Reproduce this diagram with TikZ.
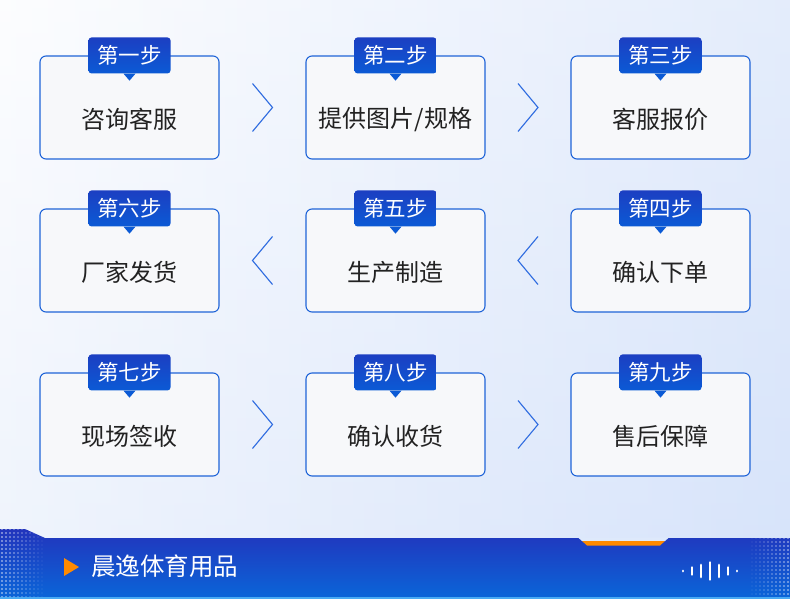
\documentclass[tikz,border=0pt]{standalone}
\usepackage{fontspec}
\newfontfamily\cjk{Noto Sans CJK SC}
\usetikzlibrary{calc}

\definecolor{bgleft}{HTML}{FBFCFE}
\definecolor{bgright}{HTML}{D6E3FA}
\definecolor{boxblue}{HTML}{1F64D8}
\definecolor{boxfill}{HTML}{F7F8FA}
\definecolor{tagtop}{HTML}{1C3FC2}
\definecolor{tagbot}{HTML}{0B5AD5}
\definecolor{txtgray}{HTML}{222222}
\definecolor{chevblue}{HTML}{2F6CE0}
\definecolor{bandtop}{HTML}{2234BC}
\definecolor{bandbot}{HTML}{0A66D9}
\definecolor{notch}{HTML}{FF8A00}

\begin{document}
\begin{tikzpicture}[x=1pt,y=-1pt,
    stepbox/.style={draw=boxblue, line width=1.1pt, fill=boxfill, rounded corners=6pt,
        minimum width=179pt, minimum height=103pt},
    steptag/.style={top color=tagtop, bottom color=tagbot, rounded corners=3pt,
        minimum width=82pt, minimum height=36pt, inner sep=0pt, text=white,
        font=\cjk\fontsize{21.5}{21.5}\selectfont},
    steptext/.style={text=txtgray, inner sep=0pt, font=\cjk\fontsize{24}{24}\selectfont},
    chev/.style={draw=chevblue, line width=1.1pt}]

    % Background
    \shade[left color=bgleft, right color=bgright] (0,0) rectangle (790,599);
    \shade[top color=white, bottom color=bgright, opacity=0.35] (0,0) rectangle (790,599);

    % Steps
    \foreach \n/\x/\y/\tg/\tx in {1/129.5/107.5/第一步/咨询客服, 2/395.5/107.5/第二步/{提供图片/规格},
        3/660.5/107.5/第三步/客服报价, 4/660.5/260.5/第四步/确认下单, 5/395.5/260.5/第五步/生产制造,
        6/129.5/260.5/第六步/厂家发货, 7/129.5/424.5/第七步/现场签收, 8/395.5/424.5/第八步/确认收货,
        9/660.5/424.5/第九步/售后保障}{
        \node[stepbox] (s\n) at (\x,\y) {};
        \node[steptext, yshift=-12pt] (txt\n) at (s\n) {\tx};
        \node[steptag] (tag\n) at (s\n.north) {\tg};
        \fill[tagbot] ($(tag\n.south)+(-6,0)$) -- ($(tag\n.south)+(6,0)$) -- ($(tag\n.south)+(0,7)$) -- cycle;
    }

    % Chevrons between the boxes
    \coordinate (c12) at ($(s1.east)!0.5!(s2.west)$);
    \coordinate (c23) at ($(s2.east)!0.5!(s3.west)$);
    \coordinate (c65) at ($(s6.east)!0.5!(s5.west)$);
    \coordinate (c54) at ($(s5.east)!0.5!(s4.west)$);
    \coordinate (c78) at ($(s7.east)!0.5!(s8.west)$);
    \coordinate (c89) at ($(s8.east)!0.5!(s9.west)$);
    \foreach \c in {c12,c23,c78,c89}
        \draw[chev] ($(\c)+(-10,-24)$) -- ($(\c)+(10,0)$) -- ($(\c)+(-10,24)$);
    \foreach \c in {c65,c54}
        \draw[chev] ($(\c)+(10,-24)$) -- ($(\c)+(-10,0)$) -- ($(\c)+(10,24)$);

    % Bottom band
    \shade[top color=bandtop, bottom color=bandbot]
        (0,529) -- (25,529) -- (45,538) -- (790,538) -- (790,599) -- (0,599) -- cycle;
    \fill[bgright!80!white] (578,537.5) -- (669,537.5) -- (665,541) -- (582,541) -- cycle;
    \fill[notch] (582,541) -- (665,541) -- (660,545.5) -- (587,545.5) -- cycle;
    \fill[blue!35!cyan!60!white, opacity=0.7] (0,597) rectangle (790,599);

    % Halftone dots
    \begin{scope}
        \clip (0,529) -- (25,529) -- (45,538) -- (790,538) -- (790,597) -- (0,597) -- cycle;
        \foreach \i [evaluate=\i as \op using {0.55*(1-\i/11)}] in {0,...,10}
            \foreach \j in {0,...,17}
                \fill[white, opacity=\op] ({2+4*\i},{529+4*\j}) circle (1.2pt);
        \foreach \i [evaluate=\i as \op using {0.5*\i/10}] in {0,...,10}
            \foreach \j in {0,...,15}
                \fill[white, opacity=\op] ({748+4*\i},{538+4*\j}) circle (1.2pt);
    \end{scope}

    \fill[notch] (64,558) -- (79,567) -- (64,576) -- cycle;
    \node[anchor=west, text=white, inner sep=0pt, font=\cjk\fontsize{24.5}{24.5}\selectfont] (brand) at (91,566) {晨逸体育用品};

    % Sound wave
    \coordinate (wave) at (710,571);
    \foreach \dx/\h in {-27/0.1,-18/3.5,-9/6,0/8.5,9/6,18/3.5,27/0.1}
        \draw[white, line width=2.8pt, line cap=round] ($(wave)+(\dx,-\h)$) -- ($(wave)+(\dx,\h)$);
\end{tikzpicture}
\end{document}
